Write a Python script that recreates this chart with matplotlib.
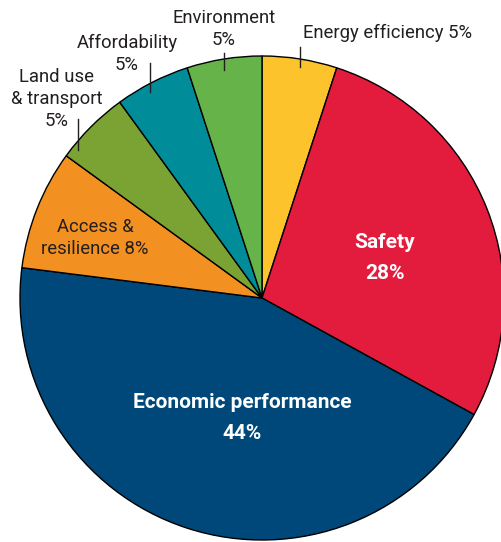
import matplotlib.pyplot as plt
import numpy as np

labels = ['Energy efficiency', 'Safety', 'Economic performance', 'Access &\nresilience',
          'Land use\n& transport', 'Affordability', 'Environment']
shares = [5, 28, 44, 8, 5, 5, 5]
colors = ['#FDC32C', '#E31B3C', '#00487A', '#F29021', '#7AA334', '#008C99', '#66B34A']

plt.rcParams['font.family'] = ['Roboto', 'DejaVu Sans']

# figure is 502x542 px; pie radius 242 px, centred at (262, 298) px
R = 242.0
cx, cy = 262.0, 298.0
fig = plt.figure(figsize=(5.02, 5.42), dpi=100)
ax = fig.add_axes([0, 0, 1, 1])
ax.pie(shares, colors=colors, startangle=90, counterclock=False, radius=1,
       wedgeprops=dict(edgecolor='black', linewidth=1))
ax.set_aspect('auto')
ax.set_xlim(-cx / R, (502 - cx) / R)
ax.set_ylim(-(542 - cy) / R, cy / R)
ax.axis('off')

def px(x, y):
    return (x - cx) / R, (cy - y) / R

# wedge mid angles (degrees clockwise from top)
edges = np.cumsum([0] + shares) / 100 * 360
mids = (edges[:-1] + edges[1:]) / 2

txt = dict(fontsize=13.3, color='#231F20', ha='center', va='center', linespacing=1.3)

# outside labels with short vertical leader ticks: text, text pos (px), ha,
# angle shift, tick length above / below the rim (px)
outside = {
    0: (f'{labels[0]} {shares[0]}%', (303, 33), 'left', 0, 12, 8),
    6: (f'{labels[6]}\n{shares[6]}%', (224, 29), 'center', 0, 6, 11),
    5: (f'{labels[5]}\n{shares[5]}%', (127, 54), 'center', -0.6, 21, 8),
    4: (f'{labels[4]}\n{shares[4]}%', (57, 99), 'center', -4.5, 22, 9),
}
for i, (s, pos, ha, dang, up, down) in outside.items():
    a = np.radians(mids[i] + dang)
    xt = np.sin(a)
    ye = np.cos(a)
    ax.plot([xt, xt], [ye - down / R, ye + up / R], color='#231F20', lw=1)
    x, y = px(*pos)
    ax.text(x, y, s, **{**txt, 'ha': ha})

x, y = px(95, 238)
ax.text(x, y, f'{labels[3]} {shares[3]}%', **txt)

white = dict(fontsize=15, color='white', ha='center', va='center',
             fontweight='bold', linespacing=1.75)
x, y = px(385, 258)
ax.text(x, y, f'{labels[1]}\n{shares[1]}%', **white)
x, y = px(242, 418)
ax.text(x, y, f'{labels[2]}\n{shares[2]}%', **white)

fig.savefig('out.png', dpi=100)
